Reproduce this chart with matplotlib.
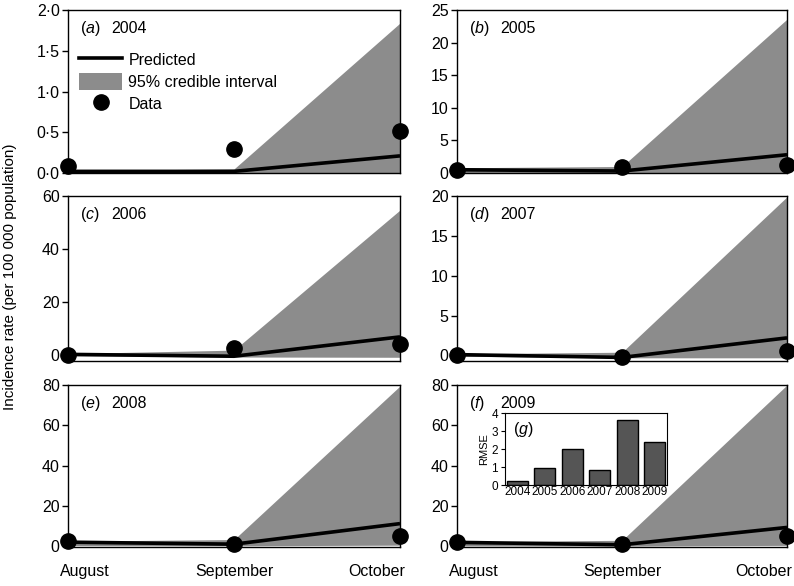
import matplotlib
matplotlib.use("Agg")
import matplotlib.pyplot as plt
import matplotlib.transforms as mtransforms
from matplotlib.lines import Line2D
from matplotlib.patches import Patch

plt.rcParams['font.family'] = ['Liberation Sans', 'DejaVu Sans']
plt.rcParams['mathtext.fontset'] = 'custom'
plt.rcParams['mathtext.rm'] = 'Liberation Sans'
plt.rcParams['mathtext.it'] = 'Liberation Sans:italic'

months = ["August", "September", "October"]
years = ["2004", "2005", "2006", "2007", "2008", "2009"]
panel_letters = ["a", "b", "c", "d", "e", "f"]

pred_2004 = [0.02, 0.02, 0.21]
upper_2004 = [0.03, 0.05, 1.84]
lower_2004 = [0.0, 0.0, 0.0]
data_2004 = [0.08, 0.30, 0.52]

pred_2005 = [0.5, 0.3, 2.8]
upper_2005 = [0.8, 1.0, 23.6]
lower_2005 = [0.0, 0.0, 0.0]
data_2005 = [0.5, 0.9, 1.2]

pred_2006 = [0.2, -0.5, 6.8]
upper_2006 = [0.5, 1.8, 54.7]
lower_2006 = [-0.3, -0.8, -0.9]
data_2006 = [0.0, 2.7, 4.3]

pred_2007 = [0.1, -0.25, 2.2]
upper_2007 = [0.2, 0.4, 19.9]
lower_2007 = [-0.1, -0.3, -0.3]
data_2007 = [0.0, -0.25, 0.6]

pred_2008 = [2.0, 1.0, 11.2]
upper_2008 = [2.5, 3.3, 79.5]
lower_2008 = [0.3, 0.2, 0.5]
data_2008 = [2.5, 1.3, 5.0]

pred_2009 = [2.0, 0.8, 9.4]
upper_2009 = [2.4, 3.0, 80.0]
lower_2009 = [0.3, 0.2, 0.5]
data_2009 = [2.3, 1.2, 5.0]

yticks_2004 = [0.0, 0.5, 1.0, 1.5, 2.0]
yticklabels_2004 = ["0·0", "0·5", "1·0", "1·5", "2·0"]
yticks_2005 = [0, 5, 10, 15, 20, 25]
yticks_2006 = [0, 20, 40, 60]
yticks_2007 = [0, 5, 10, 15, 20]
yticks_2008 = [0, 20, 40, 60, 80]
yticks_2009 = [0, 20, 40, 60, 80]

ylims = [(0, 2.0), (0, 25), (-2.3, 60), (-0.7, 20), (-0.4, 80), (-0.3, 80)]

rmse = [0.25, 0.92, 2.0, 0.83, 3.6, 2.4]
rmse_yticks = [0, 1, 2, 3, 4]

preds = [pred_2004, pred_2005, pred_2006, pred_2007, pred_2008, pred_2009]
uppers = [upper_2004, upper_2005, upper_2006, upper_2007, upper_2008, upper_2009]
lowers = [lower_2004, lower_2005, lower_2006, lower_2007, lower_2008, lower_2009]
datas = [data_2004, data_2005, data_2006, data_2007, data_2008, data_2009]
ytick_sets = [yticks_2004, yticks_2005, yticks_2006, yticks_2007, yticks_2008, yticks_2009]

W, H = 794, 586
fig = plt.figure(figsize=(W / 100, H / 100), dpi=100)

col_left = [68, 457]
col_right = [400, 787]
row_top = [10, 196, 385]
row_bot = [173, 361, 547]

gray = "#8c8c8c"
x = [0, 1, 2]
axes = []
for i in range(6):
    r, c = divmod(i, 2)
    l = col_left[c] / W
    w = (col_right[c] - col_left[c]) / W
    b = 1 - row_bot[r] / H
    h = (row_bot[r] - row_top[r]) / H
    ax = fig.add_axes([l, b, w, h])
    axes.append(ax)
    ax.fill_between(x, lowers[i], uppers[i], color=gray, linewidth=0, zorder=1)
    ax.plot(x, preds[i], color="black", lw=2.6, zorder=3, solid_capstyle="butt")
    ax.plot(x, datas[i], "o", color="black", ms=11, zorder=4, clip_on=False)
    ax.set_xlim(0, 2)
    ax.set_ylim(*ylims[i])
    ax.set_yticks(ytick_sets[i])
    if i == 0:
        ax.set_yticklabels(yticklabels_2004)
    else:
        ax.set_yticklabels([str(v) for v in ytick_sets[i]])
    ax.tick_params(axis="y", direction="out", length=4, width=1, labelsize=11.5, pad=2)
    ax.tick_params(axis="x", length=0, labelsize=11.5, pad=12)
    for sp in ax.spines.values():
        sp.set_linewidth(1)
    ax.set_xticks(x)
    if r == 2:
        ax.set_xticklabels(months)
        labs = ax.get_xticklabels()
        labs[0].set_ha("left")
        labs[0].set_transform(labs[0].get_transform() + mtransforms.ScaledTranslation(-8 / 100, 0, fig.dpi_scale_trans))
        labs[2].set_ha("right")
        labs[2].set_transform(labs[2].get_transform() + mtransforms.ScaledTranslation(5 / 100, 0, fig.dpi_scale_trans))
    else:
        ax.set_xticklabels([])
    ax.text(0.035, 0.885, "($\\mathit{%s}$)" % panel_letters[i], transform=ax.transAxes,
            fontsize=11.5, va="center", ha="left")
    ax.text(0.13, 0.885, years[i], transform=ax.transAxes, fontsize=11.5, va="center", ha="left")

handles = [Line2D([0], [0], color="black", lw=2.6),
           Patch(facecolor=gray, edgecolor="none"),
           Line2D([0], [0], marker="o", color="black", ls="none", ms=11)]
axes[0].legend(handles, ["Predicted", "95% credible interval", "Data"], loc="upper left",
               bbox_to_anchor=(0.033, 0.75), frameon=False, fontsize=11.5, handlelength=2.7,
               handleheight=1.3, labelspacing=0.28, handletextpad=0.4, borderpad=0, borderaxespad=0)

fig.text(10 / W, 1 - 277 / H, "Incidence rate (per 100 000 population)",
         rotation=90, va="center", ha="center", fontsize=11)

# inset (g)
il, ir, it, ib = 505, 667, 413, 485
ins = fig.add_axes([il / W, 1 - ib / H, (ir - il) / W, (ib - it) / H])
ins.bar(range(len(years)), rmse, width=0.77, color="#555555", edgecolor="black", linewidth=1)
ins.set_xlim(-0.45, 5.45)
ins.set_ylim(0, 4)
ins.set_yticks(rmse_yticks)
ins.set_xticks(range(len(years)))
ins.set_xticklabels(years)
ins.tick_params(axis="y", direction="out", length=3, labelsize=8.5, pad=2)
ins.tick_params(axis="x", length=0, labelsize=8.5, pad=1)
ins.set_ylabel("RMSE", fontsize=8, labelpad=2)
ins.text(0.05, 0.77, "($\\mathit{g}$)", transform=ins.transAxes, fontsize=11.5, va="center")

fig.savefig("out.png", dpi=100)
